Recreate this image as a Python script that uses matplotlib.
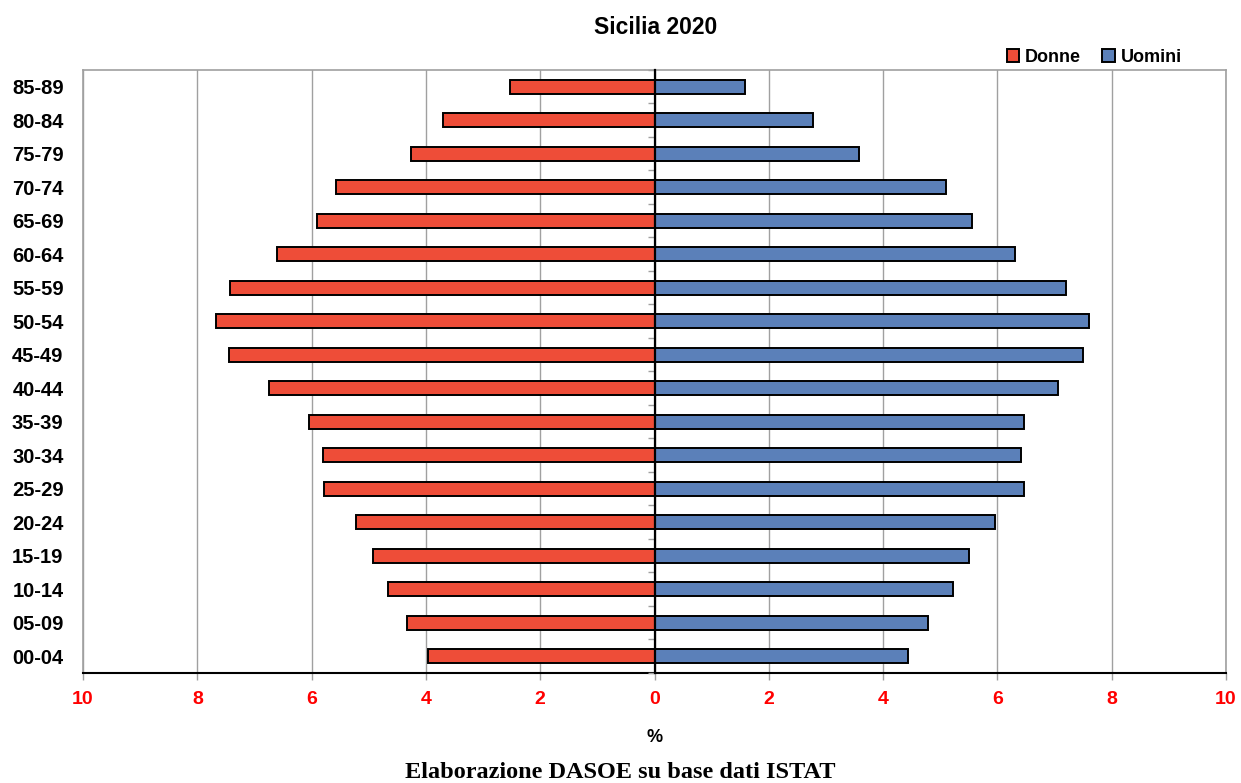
# Population pyramid for Sicily, 2020: share of population (%) by age group and sex.
import matplotlib.pyplot as plt
import numpy as np

AGE_GROUPS = ["00-04", "05-09", "10-14", "15-19", "20-24", "25-29", "30-34",
              "35-39", "40-44", "45-49", "50-54", "55-59", "60-64", "65-69",
              "70-74", "75-79", "80-84", "85-89"]
DONNE = [3.96, 4.33, 4.67, 4.93, 5.23, 5.79, 5.80, 6.04, 6.75, 7.44,
         7.68, 7.42, 6.60, 5.91, 5.58, 4.26, 3.70, 2.53]
UOMINI = [4.43, 4.79, 5.23, 5.51, 5.96, 6.47, 6.41, 6.47, 7.06, 7.50,
          7.60, 7.20, 6.31, 5.56, 5.10, 3.58, 2.77, 1.59]
X_TICKS = [-10, -8, -6, -4, -2, 0, 2, 4, 6, 8, 10]

RED = "#EE4D38"
BLUE = "#5B80B9"
GRID = "#A0A0A0"

plt.rcParams["font.family"] = ["Liberation Sans", "DejaVu Sans"]

fig = plt.figure(figsize=(12.41, 7.83), dpi=100)
ax = fig.add_axes([0.0669, 0.1405, 0.9210, 0.7701])

y = np.arange(len(AGE_GROUPS))
ax.barh(y, -np.array(DONNE), height=0.42, color=RED, edgecolor="black",
        linewidth=1.4, label="Donne", zorder=3)
ax.barh(y, UOMINI, height=0.42, color=BLUE, edgecolor="black",
        linewidth=1.4, label="Uomini", zorder=3)

ax.set_xlim(-10, 10)
ax.set_ylim(-0.5, len(AGE_GROUPS) - 0.5)
ax.set_xticks(X_TICKS)
ax.set_xticklabels([str(abs(v)) for v in X_TICKS])
ax.tick_params(axis="x", colors=GRID, length=5, width=1, pad=8,
               labelcolor="red", labelsize=14)
for lab in ax.get_xticklabels():
    lab.set_fontweight("bold")
ax.set_yticks(y)
ax.set_yticklabels(AGE_GROUPS, fontsize=14.5, fontweight="bold")
ax.tick_params(axis="y", length=0, pad=14)

ax.grid(axis="x", color=GRID, linewidth=1, zorder=0)
for side in ("top", "left", "right"):
    ax.spines[side].set_color(GRID)
    ax.spines[side].set_linewidth(1.2)
ax.spines["bottom"].set_color("black")
ax.spines["bottom"].set_linewidth(1.5)

# central axis at 0 with small ticks between the age groups
mid = ax.secondary_yaxis(0.5)
mid.set_yticks(np.arange(-0.5, len(AGE_GROUPS), 1.0))
mid.set_yticklabels([])
mid.tick_params(axis="y", colors=GRID, length=5, width=1, direction="in")
for sp in mid.spines.values():
    sp.set_color("black")
    sp.set_linewidth(1.6)
mid.set_zorder(4)

ax.set_xlabel("%", fontsize=13, fontweight="bold", labelpad=15)
fig.suptitle("Sicilia 2020", x=0.528, y=0.979, fontsize=16.5, fontweight="bold")

fig.legend(loc="center right", bbox_to_anchor=(0.958, 0.927), ncol=2,
           frameon=False, prop={"weight": "bold", "size": 13},
           handlelength=0.7, handleheight=0.7, handletextpad=0.3,
           columnspacing=1.2, borderaxespad=0)

fig.text(0.5, 0.014, "Elaborazione DASOE su base dati ISTAT",
         ha="center", va="center", fontsize=17.5, fontweight="bold",
         family=["Liberation Serif", "DejaVu Serif"])

fig.savefig("out.png", dpi=100)
